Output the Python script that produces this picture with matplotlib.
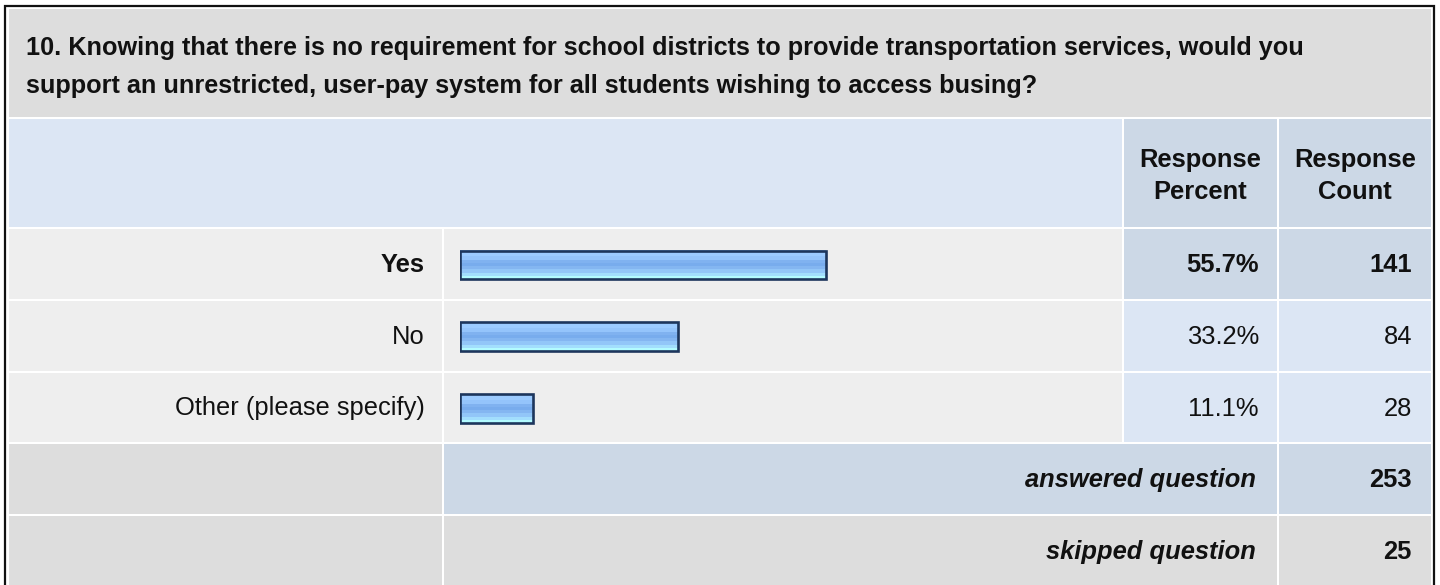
import matplotlib.pyplot as plt
import numpy as np
from matplotlib.patches import Rectangle
from matplotlib.colors import to_rgb

plt.rcParams['font.family'] = ['Liberation Sans', 'DejaVu Sans']

question = [
    "10. Knowing that there is no requirement for school districts to provide transportation services, would you",
    "support an unrestricted, user-pay system for all students wishing to access busing?",
]
choices = ["Yes", "No", "Other (please specify)"]
percents = [55.7, 33.2, 11.1]
counts = [141, 84, 28]
answered = 253
skipped = 25

W, H = 1440, 585
GRAY = '#dddddd'
LIGHT = '#eeeeee'
BLUE = '#dce6f4'
BLUE2 = '#ccd8e6'
TXT = '#111111'
FS = 18.4

fig = plt.figure(figsize=(14.4, 5.85), dpi=100)
ax = fig.add_axes([0, 0, 1, 1])
ax.set_xlim(0, W)
ax.set_ylim(H, 0)
ax.axis('off')


def cell(x0, x1, y0, y1, color):
    ax.add_patch(Rectangle((x0, y0), x1 - x0, y1 - y0, facecolor=color, edgecolor='none'))


# outer frame
ax.add_patch(Rectangle((5, 5.5), 1429, 600, facecolor='white', edgecolor='#111111', linewidth=1.6))

# column edges
lab = (9, 442)
bar = (444, 1122)
pct = (1124, 1277)
cnt = (1279, 1431)

# title block
cell(9, 1431, 9, 117, GRAY)
ax.text(26, 48, question[0], fontsize=18.2, fontweight='bold', color=TXT, va='center', ha='left')
ax.text(26, 86, question[1], fontsize=18.2, fontweight='bold', color=TXT, va='center', ha='left')

# header row
cell(lab[0], bar[1], 119, 227, BLUE)
cell(pct[0], pct[1], 119, 227, BLUE2)
cell(cnt[0], cnt[1], 119, 227, BLUE2)
ax.text(sum(pct) / 2, 176, "Response\nPercent", fontsize=FS, fontweight='bold', color=TXT,
        ha='center', va='center', linespacing=1.4)
ax.text(sum(cnt) / 2, 176, "Response\nCount", fontsize=FS, fontweight='bold', color=TXT,
        ha='center', va='center', linespacing=1.4)

pitch = 71.8
top0 = 229
for i, (c, p, n) in enumerate(zip(choices, percents, counts)):
    y0 = top0 + i * pitch
    y1 = y0 + pitch - 2
    yc = (y0 + y1) / 2 + 1
    first = i == 0
    cell(lab[0], lab[1], y0, y1, LIGHT)
    cell(bar[0], bar[1], y0, y1, LIGHT)
    cell(pct[0], pct[1], y0, y1, BLUE2 if first else BLUE)
    cell(cnt[0], cnt[1], y0, y1, BLUE2 if first else BLUE)
    w = 'bold' if first else 'normal'
    ax.text(425, yc, c, fontsize=FS, fontweight=w, color=TXT, ha='right', va='center')
    ax.text(1259, yc, f"{p:.1f}%", fontsize=FS, fontweight=w, color=TXT, ha='right', va='center')
    ax.text(1412, yc, str(n), fontsize=FS, fontweight=w, color=TXT, ha='right', va='center')

# summary rows
for k, (label, val, mid, right) in enumerate([
        ("answered question", answered, BLUE2, BLUE2),
        ("skipped question", skipped, GRAY, GRAY)]):
    y0 = top0 + (3 + k) * pitch
    y1 = y0 + pitch - 2
    yc = (y0 + y1) / 2 + 1
    cell(lab[0], lab[1], y0, y1, GRAY)
    cell(bar[0], pct[1], y0, y1, mid)
    cell(cnt[0], cnt[1], y0, y1, right)
    ax.text(1256, yc, label, fontsize=FS, fontweight='bold', style='italic', color=TXT,
            ha='right', va='center')
    ax.text(1412, yc, str(val), fontsize=FS, fontweight='bold', color=TXT, ha='right', va='center')

# bars, drawn in percent units
bax = fig.add_axes([460 / W, 1 - (top0 + 3 * pitch) / H, 657 / W, 3 * pitch / H])
bax.axis('off')
grad_cols = ['#9ccbff', '#9ccbff', '#94c4fb', '#80b2f0', '#78aced', '#84b6f1',
             '#92c6f8', '#a2defd', '#b2fbff']
grad = np.array([[to_rgb(c)] for c in grad_cols])
h = 0.40
for i, p in enumerate(percents):
    bax.imshow(grad, extent=(0, p, i + h / 2, i - h / 2), aspect='auto',
               interpolation='nearest', origin='upper', zorder=2)
    bax.barh(i, p, height=h, facecolor='none', edgecolor='#1d365c', linewidth=1.9, zorder=3)
bax.set_xlim(0, 100)
bax.set_ylim(2.5, -0.5)

fig.savefig('out.png', dpi=100)
